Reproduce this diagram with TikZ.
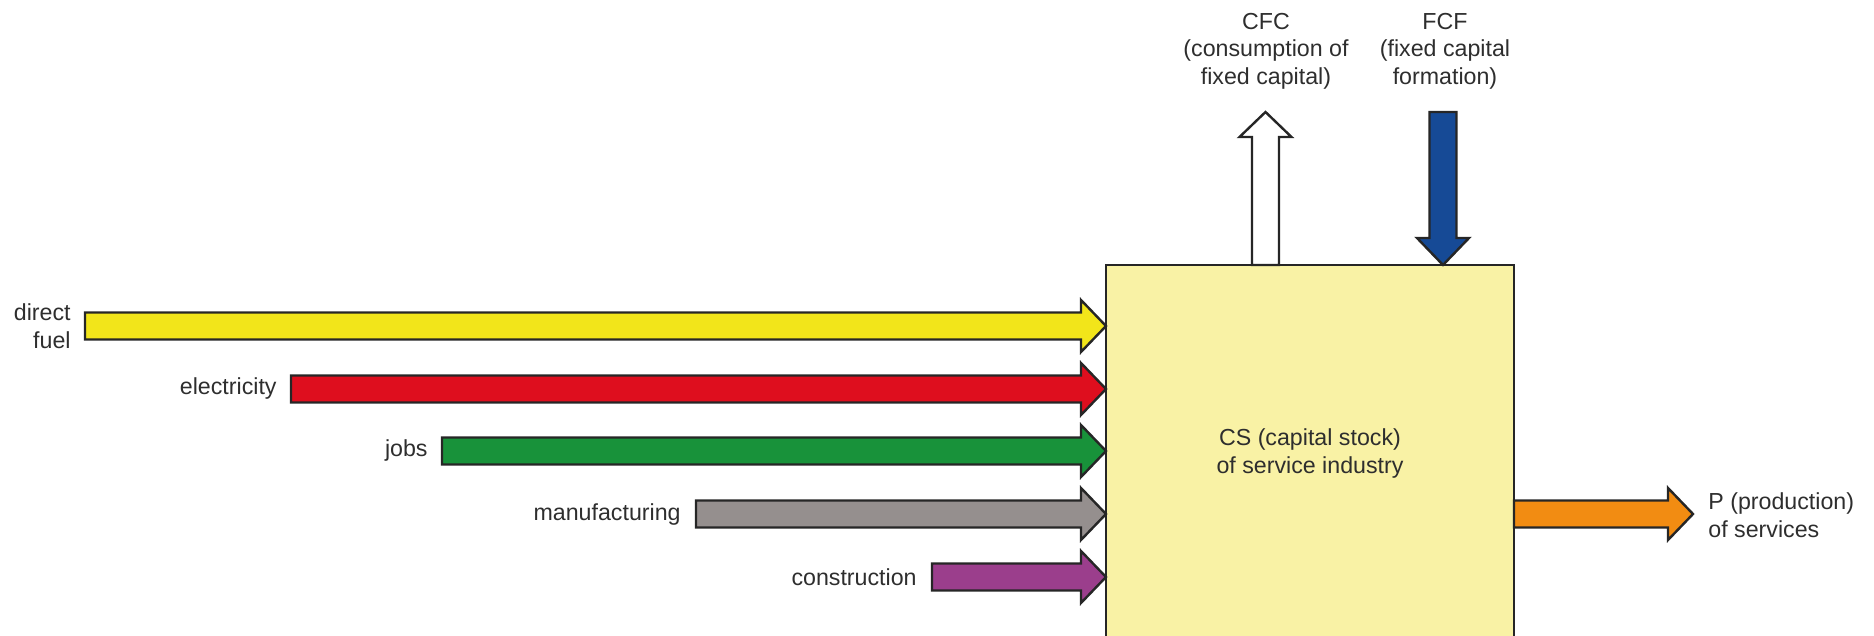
\documentclass[tikz,border=0pt]{standalone}
\usepackage{fontspec}
\setmainfont{Liberation Sans}
\usetikzlibrary{calc}

\definecolor{fuelY}{HTML}{F2E51A}
\definecolor{elecR}{HTML}{DE0E1E}
\definecolor{jobsG}{HTML}{18923A}
\definecolor{manuG}{HTML}{958F8E}
\definecolor{consP}{HTML}{9B3E8C}
\definecolor{prodO}{HTML}{F28C12}
\definecolor{fcfB}{HTML}{164A96}
\definecolor{stockY}{HTML}{F9F2A5}
\definecolor{inkT}{HTML}{2E2E2E}
\definecolor{edgeK}{HTML}{262626}

% block arrow pointing right: start x, tip x, centre y, fill
\newcommand{\flowright}[4]{%
  \draw[blockarrow, fill=#4]
    (#1,#3-13.5) -- (#2-25,#3-13.5) -- (#2-25,#3-26) -- (#2,#3)
    -- (#2-25,#3+26) -- (#2-25,#3+13.5) -- (#1,#3+13.5) -- cycle;}
% block arrow pointing up: centre x, start y, tip y, fill
\newcommand{\flowup}[4]{%
  \draw[blockarrow, fill=#4]
    (#1-13.5,#2) -- (#1-13.5,#3+25) -- (#1-26,#3+25) -- (#1,#3)
    -- (#1+26,#3+25) -- (#1+13.5,#3+25) -- (#1+13.5,#2) -- cycle;}
% block arrow pointing down: centre x, start y, tip y, fill
\newcommand{\flowdown}[4]{%
  \draw[blockarrow, fill=#4]
    (#1-13.5,#2) -- (#1-13.5,#3-27) -- (#1-26,#3-27) -- (#1,#3)
    -- (#1+26,#3-27) -- (#1+13.5,#3-27) -- (#1+13.5,#2) -- cycle;}

\begin{document}
\begin{tikzpicture}[x=0.5pt, y=-0.5pt,
  blockarrow/.style={draw=edgeK, line width=1.2pt, line join=miter},
  lbl/.style={text=inkT, inner sep=0pt, font=\fontsize{11.6}{13.8}\selectfont},
  lblr/.style={lbl, anchor=east, align=right},
  lbll/.style={lbl, anchor=west, align=left},
  lblc/.style={lbl, align=center},
]
\useasboundingbox (0,0) rectangle (1874,636);

% capital stock box (runs past the lower edge)
\draw[draw=edgeK, line width=1pt, fill=stockY] (1106,265) rectangle (1514,660);
\node[lblc] (cs) at (1310,453.5) {CS (capital stock)\\of service industry};

% inputs on the left
\flowright{85}{1106}{326}{fuelY}
\flowright{291}{1106}{389}{elecR}
\flowright{442}{1106}{451}{jobsG}
\flowright{696}{1106}{514}{manuG}
\flowright{932}{1106}{577}{consP}

\node[lblr] (fuel) at (71,326) {direct\\fuel};
\node[lblr] (elec) at (277,389) {electricity};
\node[lblr] (jobs) at (428,451) {jobs};
\node[lblr] (manu) at (681,514) {manufacturing};
\node[lblr] (cons) at (917,577) {construction};

% output on the right
\flowright{1514}{1693}{514}{prodO}
\node[lbll] (prod) at (1708,515) {P (production)\\of services};

% capital flows at the top
\flowup{1265.5}{265}{112}{white}
\flowdown{1443}{112}{265}{fcfB}
\node[lblc] (cfc) at (1266,51) {CFC\\(consumption of\\fixed capital)};
\node[lblc] (fcf) at (1445,51) {FCF\\(fixed capital\\formation)};
\end{tikzpicture}
\end{document}
